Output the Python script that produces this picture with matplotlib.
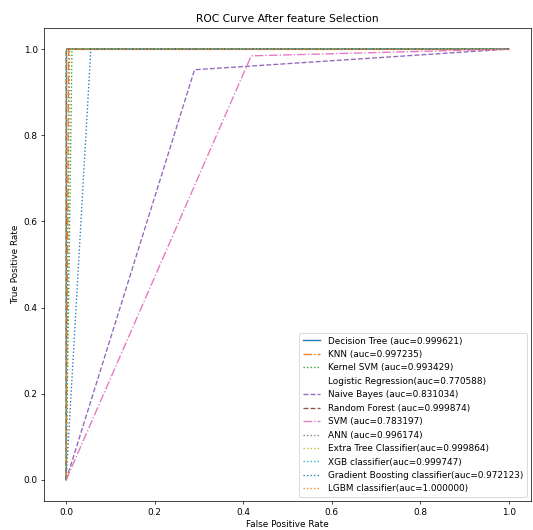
import matplotlib
matplotlib.use("Agg")
import matplotlib.pyplot as plt

# models, their auc values and the ROC points (fpr, tpr)
names = ["Decision Tree ", "KNN ", "Kernel SVM ", "Logistic Regression",
         "Naive Bayes ", "Random Forest ", "SVM ", "ANN ",
         "Extra Tree Classifier", "XGB classifier",
         "Gradient Boosting classifier", "LGBM classifier"]
aucs = [0.999621, 0.997235, 0.993429, 0.770588, 0.831034, 0.999874,
        0.783197, 0.996174, 0.999864, 0.999747, 0.972123, 1.000000]
fprs = [[0, 0.000758, 1], [0, 0.00553, 1], [0, 0.013142, 1], [0, 0.458824, 1],
        [0, 0.290, 1], [0, 0.000252, 1], [0, 0.418, 1], [0, 0.00765, 1],
        [0, 0.000272, 1], [0, 0.000506, 1], [0, 0.055754, 1], [0, 0.0, 1]]
tprs = [[0, 1.0, 1], [0, 1.0, 1], [0, 1.0, 1], [0, 1.0, 1],
        [0, 0.952068, 1], [0, 1.0, 1], [0, 0.984394, 1], [0, 1.0, 1],
        [0, 1.0, 1], [0, 1.0, 1], [0, 1.0, 1], [0, 1.0, 1]]
styles = ["-", "-.", ":", "None", "--", "--", "-.", ":", ":", ":", ":", ":"]

dpi = 64
fig = plt.figure(figsize=(533 / dpi, 530 / dpi), dpi=dpi)
ax = fig.add_axes([0.0826, 0.0538, 0.9136, 0.8942])

for name, a, x, y, ls in zip(names, aucs, fprs, tprs, styles):
    ax.plot(x, y, linestyle=ls, label="%s(auc=%f)" % (name, a))

ax.set_title("ROC Curve After feature Selection")
ax.set_xlabel("False Positive Rate")
ax.set_ylabel("True Positive Rate")
ax.legend(loc="lower right")

fig.savefig("out.png", dpi=dpi)
